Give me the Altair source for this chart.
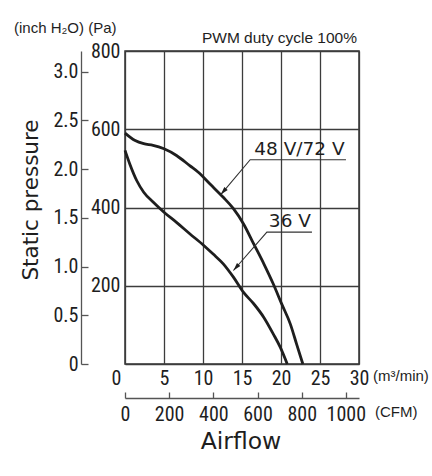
import altair as alt
import pandas as pd

# Fan static-pressure curves: airflow (m³/min) against static pressure (Pa)
flow_48_72 = [0, 1.3, 2.4, 3.6, 5.0, 6.6, 8.3, 9.4, 10.9, 12.6, 13.9, 15.2, 16.5, 17.8, 19.0, 20.1, 21.2, 22.0, 22.8]
pressure_48_72 = [590, 571, 563, 559, 550, 533, 507, 490, 460, 426, 397, 358, 307, 256, 205, 153, 102, 51, 0]
flow_36 = [0, 0.6, 1.5, 2.4, 3.6, 5.0, 6.6, 8.3, 10.1, 11.3, 12.6, 13.9, 15.2, 16.5, 17.8, 19.0, 19.9, 20.8]
pressure_36 = [546, 512, 469, 439, 414, 388, 362, 333, 303, 281, 256, 222, 183, 154, 119, 77, 43, 0]

# Axis tick values
airflow_ticks = [0, 5, 10, 15, 20, 25, 30]
pa_ticks = [0, 200, 400, 600, 800]
inch_ticks = [0, 0.5, 1.0, 1.5, 2.0, 2.5, 3.0]
cfm_ticks = [0, 200, 400, 600, 800, 1000]

# Callout labels with their leader lines
callout_text = ["48 V/72 V", "36 V"]
callout_x = [22.36, 21.14]
callout_p = [533, 349]
underline_end_x = [28.33, 23.97]
underline_start_x = [16.05, 18.19]
underline_p = [522, 337]
arrow_tip_x = [12.28, 13.9]
arrow_tip_p = [433, 239]

PA_PER_INCH = 249.089
CFM_PER_M3MIN = 35.3147
FLOW_MAX = 30
PA_MAX = 800

INK = "#1e1e1e"
GRID = "#3c3c3c"
NUM_FONT = "Liberation Sans Narrow, Roboto Condensed, Liberation Sans"
NUM_SIZE = 20
TEXT_FONT = "Liberation Sans"
TITLE_FONT = "DejaVu Sans"

curves = pd.DataFrame({
    "flow": flow_48_72 + flow_36,
    "pressure": pressure_48_72 + pressure_36,
    "series": ["48 V/72 V"] * len(flow_48_72) + ["36 V"] * len(flow_36),
})

leader_rows = []
for i, name in enumerate(callout_text):
    leader_rows += [
        {"series": name, "step": 0, "flow": underline_end_x[i], "pressure": underline_p[i]},
        {"series": name, "step": 1, "flow": underline_start_x[i], "pressure": underline_p[i]},
        {"series": name, "step": 2, "flow": arrow_tip_x[i], "pressure": arrow_tip_p[i]},
    ]
leaders = pd.DataFrame(leader_rows)
tips = pd.DataFrame({"flow": arrow_tip_x, "pressure": arrow_tip_p})
callouts = pd.DataFrame({"flow": callout_x, "pressure": callout_p, "label": callout_text})

x_scale = alt.Scale(domain=[0, FLOW_MAX], nice=False, zero=False)
y_scale = alt.Scale(domain=[0, PA_MAX], nice=False, zero=False)
x_axis = alt.Axis(
    values=airflow_ticks, grid=True, gridColor=GRID, gridWidth=1.3,
    ticks=False, domain=False, title=None,
    labelFont=NUM_FONT, labelFontSize=NUM_SIZE, labelColor=INK, labelPadding=4,
    labelFlush=False, labelOverlap=False,
    labelOffset={"condition": {"test": "datum.value === 0", "value": -9}, "value": 0},
)
y_axis = alt.Axis(
    values=pa_ticks, grid=True, gridColor=GRID, gridWidth=1.3,
    ticks=False, domain=False, title=None,
    labelFont=NUM_FONT, labelFontSize=NUM_SIZE, labelColor=INK, labelPadding=5,
    labelFlush=False, labelOverlap=False,
    labelExpr="datum.value === 0 ? '' : datum.label",
)
X = alt.X("flow:Q", scale=x_scale, axis=x_axis)
Y = alt.Y("pressure:Q", scale=y_scale, axis=y_axis)

curve_lines = alt.Chart(curves).mark_line(
    color=INK, strokeWidth=2.8, interpolate="monotone"
).encode(x=X, y=Y, detail="series:N")

leader_lines = alt.Chart(leaders).mark_line(color="#333333", strokeWidth=1.1).encode(
    x=X, y=Y, detail="series:N", order="step:Q"
)

arrow_heads = alt.Chart(tips).mark_point(
    shape="M0,0L-0.28,1L0.28,1Z", filled=True, color=INK, size=256, angle=221, opacity=1
).encode(x=X, y=Y)

callout_labels = alt.Chart(callouts).mark_text(
    font=TITLE_FONT, fontSize=18.5, color=INK, align="center", baseline="alphabetic"
).encode(x=X, y=Y, text="label:N")

anchor = pd.DataFrame({"k": [0]})


def fixed_text(text, x, y, size, font, align="left", baseline="middle", angle=0):
    return alt.Chart(anchor).mark_text(
        text=text, font=font, fontSize=size, color=INK,
        align=align, baseline=baseline, angle=angle,
    ).encode(x=alt.value(x), y=alt.value(y))


texts = [
    fixed_text("(inch H\u2082O)  (Pa)", -111, -23, 15, TEXT_FONT),
    fixed_text("PWM duty cycle 100%", 232, -13, 15.5, TEXT_FONT, align="right"),
    fixed_text("(m\u00b3/min)", 248, 325, 15, TEXT_FONT),
    fixed_text("(CFM)", 250, 361, 15, TEXT_FONT),
    fixed_text("Static pressure", -93, 149, 21.5, TITLE_FONT, align="center", angle=270),
    fixed_text("Airflow", 116, 398, 23.5, TITLE_FONT, align="center", baseline="alphabetic"),
]

main = alt.layer(curve_lines, leader_lines, arrow_heads, callout_labels, *texts)

# Secondary pressure scale in inches of water
inch_layer = alt.Chart(pd.DataFrame({"inch": inch_ticks})).mark_point(opacity=0).encode(
    x=alt.value(0),
    y=alt.Y(
        "inch:Q",
        scale=alt.Scale(domain=[0, PA_MAX / PA_PER_INCH], nice=False, zero=False),
        axis=alt.Axis(
            orient="left", offset=44, values=inch_ticks, title=None,
            domain=True, domainColor="#555555", domainWidth=1.3,
            ticks=True, tickColor="#555555", tickWidth=1.3, tickSize=alt.ExprRef("-7"),
            labelFont=NUM_FONT, labelFontSize=NUM_SIZE, labelColor=INK, labelPadding=10,
            labelFlush=False, labelOverlap=False, grid=False,
            labelExpr="datum.value === 0 ? '0' : format(datum.value, '.1f')",
        ),
    ),
)

# Secondary airflow scale in cubic feet per minute
cfm_layer = alt.Chart(pd.DataFrame({"cfm": cfm_ticks})).mark_point(opacity=0).encode(
    y=alt.value(0),
    x=alt.X(
        "cfm:Q",
        scale=alt.Scale(domain=[0, FLOW_MAX * CFM_PER_M3MIN], nice=False, zero=False),
        axis=alt.Axis(
            orient="bottom", offset=34, values=cfm_ticks, title=None, format="d",
            domain=True, domainColor="#555555", domainWidth=1.3,
            ticks=True, tickColor="#555555", tickWidth=1.3, tickSize=alt.ExprRef("-6"),
            labelFont=NUM_FONT, labelFontSize=NUM_SIZE, labelColor=INK, labelPadding=12,
            labelFlush=False, labelOverlap=False, grid=False,
        ),
    ),
)

chart = alt.layer(main, inch_layer, cfm_layer).resolve_scale(
    x="independent", y="independent"
).properties(
    width=234, height=313,
    autosize=alt.AutoSizeParams(type="none"),
    padding={"left": 125, "top": 51, "right": 73, "bottom": 112},
    background="white",
).configure_view(stroke="#333333", strokeWidth=1.5)

chart.save("out.html", embed_options={"renderer": "svg", "actions": False})
